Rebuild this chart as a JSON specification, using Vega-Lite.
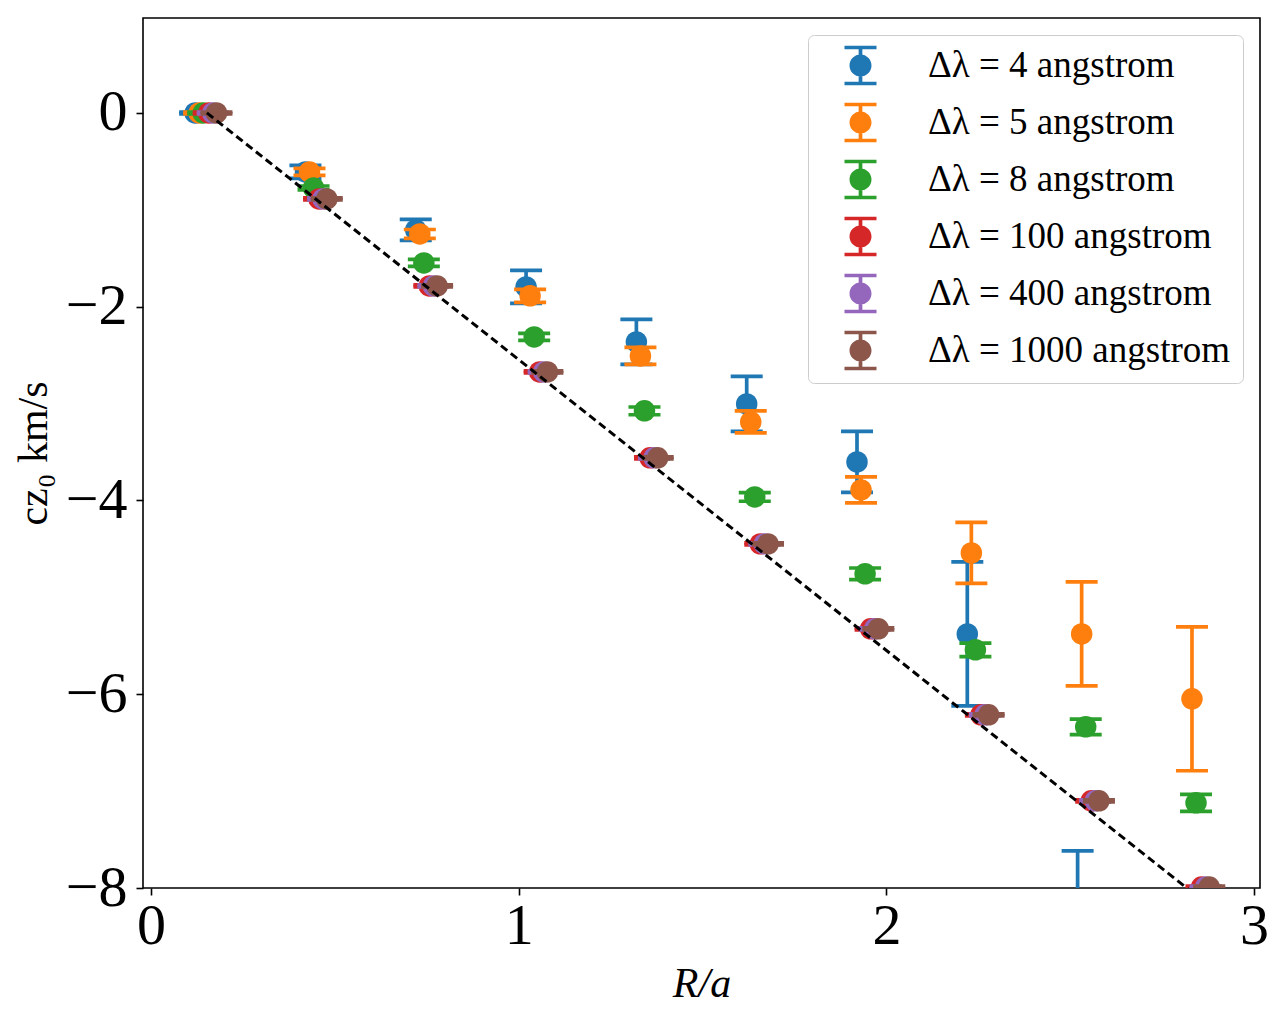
{
  "$schema": "https://vega.github.io/schema/vega-lite/v6.json",
  "width": 1117,
  "height": 870,
  "autosize": {"type": "none"},
  "padding": {"left": 143, "top": 18, "right": 22, "bottom": 141},
  "background": "white",
  "config": {
    "view": {"stroke": "black", "strokeWidth": 1.6},
    "font": "Liberation Serif",
    "axis": {"domain": false, "grid": false, "ticks": true, "tickColor": "black", "tickWidth": 1.6, "tickSize": 7, "labelColor": "black", "labelFont": "Liberation Serif", "labelFontSize": 58, "titleFont": "Liberation Serif", "titleFontSize": 42, "titleFontWeight": "normal", "titleColor": "black", "labelFlush": false, "format": "d"},
    "axisX": {"labelPadding": 2, "titlePadding": 8, "titleFontStyle": "italic"},
    "axisY": {"labelPadding": 9, "titlePadding": 10},
    "legend": {"labelFont": "Liberation Serif", "labelFontSize": 37, "labelColor": "black"}
  },
  "datasets": {
    "pts": [
      {"s": "Δλ = 4 angstrom", "x": 0.120, "y": 0, "lo": -0.01, "hi": 0.01},
      {"s": "Δλ = 4 angstrom", "x": 0.420, "y": -0.609, "lo": -0.676, "hi": -0.542},
      {"s": "Δλ = 4 angstrom", "x": 0.720, "y": -1.207, "lo": -1.315, "hi": -1.099},
      {"s": "Δλ = 4 angstrom", "x": 1.020, "y": -1.796, "lo": -1.966, "hi": -1.626},
      {"s": "Δλ = 4 angstrom", "x": 1.320, "y": -2.363, "lo": -2.595, "hi": -2.131},
      {"s": "Δλ = 4 angstrom", "x": 1.620, "y": -3.003, "lo": -3.287, "hi": -2.719},
      {"s": "Δλ = 4 angstrom", "x": 1.920, "y": -3.602, "lo": -3.917, "hi": -3.287},
      {"s": "Δλ = 4 angstrom", "x": 2.220, "y": -5.377, "lo": -6.120, "hi": -4.634},
      {"s": "Δλ = 4 angstrom", "x": 2.520, "y": -8.650, "lo": -9.680, "hi": -7.616},
      {"s": "Δλ = 4 angstrom", "x": 2.820, "y": -10.30, "lo": -11.80, "hi": -8.800},
      {"s": "Δλ = 5 angstrom", "x": 0.131, "y": 0, "lo": -0.01, "hi": 0.01},
      {"s": "Δλ = 5 angstrom", "x": 0.431, "y": -0.609, "lo": -0.645, "hi": -0.573},
      {"s": "Δλ = 5 angstrom", "x": 0.731, "y": -1.249, "lo": -1.295, "hi": -1.203},
      {"s": "Δλ = 5 angstrom", "x": 1.031, "y": -1.888, "lo": -1.955, "hi": -1.821},
      {"s": "Δλ = 5 angstrom", "x": 1.331, "y": -2.508, "lo": -2.596, "hi": -2.420},
      {"s": "Δλ = 5 angstrom", "x": 1.631, "y": -3.189, "lo": -3.303, "hi": -3.075},
      {"s": "Δλ = 5 angstrom", "x": 1.931, "y": -3.891, "lo": -4.025, "hi": -3.757},
      {"s": "Δλ = 5 angstrom", "x": 2.231, "y": -4.541, "lo": -4.856, "hi": -4.226},
      {"s": "Δλ = 5 angstrom", "x": 2.531, "y": -5.377, "lo": -5.914, "hi": -4.840},
      {"s": "Δλ = 5 angstrom", "x": 2.831, "y": -6.047, "lo": -6.790, "hi": -5.304},
      {"s": "Δλ = 8 angstrom", "x": 0.142, "y": 0, "lo": -0.01, "hi": 0.01},
      {"s": "Δλ = 8 angstrom", "x": 0.442, "y": -0.774, "lo": -0.794, "hi": -0.754},
      {"s": "Δλ = 8 angstrom", "x": 0.742, "y": -1.548, "lo": -1.584, "hi": -1.512},
      {"s": "Δλ = 8 angstrom", "x": 1.042, "y": -2.312, "lo": -2.348, "hi": -2.276},
      {"s": "Δλ = 8 angstrom", "x": 1.342, "y": -3.075, "lo": -3.115, "hi": -3.035},
      {"s": "Δλ = 8 angstrom", "x": 1.642, "y": -3.963, "lo": -4.008, "hi": -3.918},
      {"s": "Δλ = 8 angstrom", "x": 1.942, "y": -4.757, "lo": -4.817, "hi": -4.697},
      {"s": "Δλ = 8 angstrom", "x": 2.242, "y": -5.542, "lo": -5.612, "hi": -5.472},
      {"s": "Δλ = 8 angstrom", "x": 2.542, "y": -6.336, "lo": -6.416, "hi": -6.256},
      {"s": "Δλ = 8 angstrom", "x": 2.842, "y": -7.121, "lo": -7.209, "hi": -7.033},
      {"s": "Δλ = 100 angstrom", "x": 0.157, "y": 0, "lo": -0.01, "hi": 0.01},
      {"s": "Δλ = 100 angstrom", "x": 0.457, "y": -0.887, "lo": -0.897, "hi": -0.877},
      {"s": "Δλ = 100 angstrom", "x": 0.757, "y": -1.785, "lo": -1.795, "hi": -1.775},
      {"s": "Δλ = 100 angstrom", "x": 1.057, "y": -2.673, "lo": -2.683, "hi": -2.663},
      {"s": "Δλ = 100 angstrom", "x": 1.357, "y": -3.560, "lo": -3.570, "hi": -3.550},
      {"s": "Δλ = 100 angstrom", "x": 1.657, "y": -4.448, "lo": -4.458, "hi": -4.438},
      {"s": "Δλ = 100 angstrom", "x": 1.957, "y": -5.325, "lo": -5.335, "hi": -5.315},
      {"s": "Δλ = 100 angstrom", "x": 2.257, "y": -6.213, "lo": -6.223, "hi": -6.203},
      {"s": "Δλ = 100 angstrom", "x": 2.557, "y": -7.100, "lo": -7.110, "hi": -7.090},
      {"s": "Δλ = 100 angstrom", "x": 2.857, "y": -7.990, "lo": -8.000, "hi": -7.980},
      {"s": "Δλ = 400 angstrom", "x": 0.168, "y": 0, "lo": -0.01, "hi": 0.01},
      {"s": "Δλ = 400 angstrom", "x": 0.468, "y": -0.887, "lo": -0.897, "hi": -0.877},
      {"s": "Δλ = 400 angstrom", "x": 0.768, "y": -1.785, "lo": -1.795, "hi": -1.775},
      {"s": "Δλ = 400 angstrom", "x": 1.068, "y": -2.673, "lo": -2.683, "hi": -2.663},
      {"s": "Δλ = 400 angstrom", "x": 1.368, "y": -3.560, "lo": -3.570, "hi": -3.550},
      {"s": "Δλ = 400 angstrom", "x": 1.668, "y": -4.448, "lo": -4.458, "hi": -4.438},
      {"s": "Δλ = 400 angstrom", "x": 1.968, "y": -5.325, "lo": -5.335, "hi": -5.315},
      {"s": "Δλ = 400 angstrom", "x": 2.268, "y": -6.213, "lo": -6.223, "hi": -6.203},
      {"s": "Δλ = 400 angstrom", "x": 2.568, "y": -7.100, "lo": -7.110, "hi": -7.090},
      {"s": "Δλ = 400 angstrom", "x": 2.868, "y": -7.990, "lo": -8.000, "hi": -7.980},
      {"s": "Δλ = 1000 angstrom", "x": 0.178, "y": 0, "lo": -0.01, "hi": 0.01},
      {"s": "Δλ = 1000 angstrom", "x": 0.478, "y": -0.887, "lo": -0.897, "hi": -0.877},
      {"s": "Δλ = 1000 angstrom", "x": 0.778, "y": -1.785, "lo": -1.795, "hi": -1.775},
      {"s": "Δλ = 1000 angstrom", "x": 1.078, "y": -2.673, "lo": -2.683, "hi": -2.663},
      {"s": "Δλ = 1000 angstrom", "x": 1.378, "y": -3.560, "lo": -3.570, "hi": -3.550},
      {"s": "Δλ = 1000 angstrom", "x": 1.678, "y": -4.448, "lo": -4.458, "hi": -4.438},
      {"s": "Δλ = 1000 angstrom", "x": 1.978, "y": -5.325, "lo": -5.335, "hi": -5.315},
      {"s": "Δλ = 1000 angstrom", "x": 2.278, "y": -6.213, "lo": -6.223, "hi": -6.203},
      {"s": "Δλ = 1000 angstrom", "x": 2.578, "y": -7.100, "lo": -7.110, "hi": -7.090},
      {"s": "Δλ = 1000 angstrom", "x": 2.878, "y": -7.990, "lo": -8.000, "hi": -7.980}
    ],
    "ref": [
      {"x": 0.152, "y": 0},
      {"x": 2.870, "y": -8.16}
    ]
  },
  "data": {"name": "pts"},
  "encoding": {
    "x": {"field": "x", "type": "quantitative", "title": "R/a", "scale": {"domain": [-0.0218, 3.016], "nice": false, "zero": false}, "axis": {"values": [0, 1, 2, 3]}},
    "y": {"field": "y", "type": "quantitative", "title": "cz₀ km/s", "scale": {"domain": [-8, 0.98], "nice": false, "zero": false}, "axis": {"values": [-8, -6, -4, -2, 0]}},
    "color": {
      "field": "s", "type": "nominal",
      "scale": {"domain": ["Δλ = 4 angstrom", "Δλ = 5 angstrom", "Δλ = 8 angstrom", "Δλ = 100 angstrom", "Δλ = 400 angstrom", "Δλ = 1000 angstrom"], "range": ["#1f77b4", "#ff7f0e", "#2ca02c", "#d62728", "#9467bd", "#8c564b"]},
      "legend": {"title": null, "orient": "top-right", "offset": 17, "fillColor": "white", "strokeColor": "#cccccc", "cornerRadius": 6, "padding": 12, "symbolType": "M-0.889,-1.103H0.889V-0.897H-0.889ZM-0.889,0.897H0.889V1.103H-0.889ZM-0.103,-1H0.103V1H-0.103ZM0.611,0A0.611,0.611,0,1,1,-0.611,0A0.611,0.611,0,1,1,0.611,0Z", "symbolSize": 1296, "symbolStrokeWidth": 0, "symbolOpacity": 1, "symbolOffset": 22, "labelOffset": 49, "labelFont": "Liberation Serif", "labelFontSize": 37, "labelColor": "black", "labelLimit": 600, "rowPadding": 16}
    }
  },
  "layer": [
    {"transform": [{"filter": "datum.s === 'Δλ = 4 angstrom'"}], "layer": [
      {"mark": {"type": "rule", "strokeWidth": 3.7, "clip": true}, "encoding": {"y": {"field": "lo", "type": "quantitative", "title": "cz₀ km/s", "axis": {"values": [-8, -6, -4, -2, 0]}, "scale": {"domain": [-8, 0.98], "nice": false, "zero": false}}, "y2": {"field": "hi"}}},
      {"mark": {"type": "tick", "orient": "horizontal", "size": 32, "thickness": 3.7, "opacity": 1, "clip": true}, "encoding": {"y": {"field": "lo", "type": "quantitative", "title": "cz₀ km/s", "axis": {"values": [-8, -6, -4, -2, 0]}, "scale": {"domain": [-8, 0.98], "nice": false, "zero": false}}}},
      {"mark": {"type": "tick", "orient": "horizontal", "size": 32, "thickness": 3.7, "opacity": 1, "clip": true}, "encoding": {"y": {"field": "hi", "type": "quantitative", "title": "cz₀ km/s", "axis": {"values": [-8, -6, -4, -2, 0]}, "scale": {"domain": [-8, 0.98], "nice": false, "zero": false}}}},
      {"mark": {"type": "point", "shape": "circle", "filled": true, "size": 462, "opacity": 1, "clip": true}}
    ]},
    {"transform": [{"filter": "datum.s === 'Δλ = 5 angstrom'"}], "layer": [
      {"mark": {"type": "rule", "strokeWidth": 3.7, "clip": true}, "encoding": {"y": {"field": "lo", "type": "quantitative", "title": "cz₀ km/s", "axis": {"values": [-8, -6, -4, -2, 0]}, "scale": {"domain": [-8, 0.98], "nice": false, "zero": false}}, "y2": {"field": "hi"}}},
      {"mark": {"type": "tick", "orient": "horizontal", "size": 32, "thickness": 3.7, "opacity": 1, "clip": true}, "encoding": {"y": {"field": "lo", "type": "quantitative", "title": "cz₀ km/s", "axis": {"values": [-8, -6, -4, -2, 0]}, "scale": {"domain": [-8, 0.98], "nice": false, "zero": false}}}},
      {"mark": {"type": "tick", "orient": "horizontal", "size": 32, "thickness": 3.7, "opacity": 1, "clip": true}, "encoding": {"y": {"field": "hi", "type": "quantitative", "title": "cz₀ km/s", "axis": {"values": [-8, -6, -4, -2, 0]}, "scale": {"domain": [-8, 0.98], "nice": false, "zero": false}}}},
      {"mark": {"type": "point", "shape": "circle", "filled": true, "size": 462, "opacity": 1, "clip": true}}
    ]},
    {"transform": [{"filter": "datum.s === 'Δλ = 8 angstrom'"}], "layer": [
      {"mark": {"type": "rule", "strokeWidth": 3.7, "clip": true}, "encoding": {"y": {"field": "lo", "type": "quantitative", "title": "cz₀ km/s", "axis": {"values": [-8, -6, -4, -2, 0]}, "scale": {"domain": [-8, 0.98], "nice": false, "zero": false}}, "y2": {"field": "hi"}}},
      {"mark": {"type": "tick", "orient": "horizontal", "size": 32, "thickness": 3.7, "opacity": 1, "clip": true}, "encoding": {"y": {"field": "lo", "type": "quantitative", "title": "cz₀ km/s", "axis": {"values": [-8, -6, -4, -2, 0]}, "scale": {"domain": [-8, 0.98], "nice": false, "zero": false}}}},
      {"mark": {"type": "tick", "orient": "horizontal", "size": 32, "thickness": 3.7, "opacity": 1, "clip": true}, "encoding": {"y": {"field": "hi", "type": "quantitative", "title": "cz₀ km/s", "axis": {"values": [-8, -6, -4, -2, 0]}, "scale": {"domain": [-8, 0.98], "nice": false, "zero": false}}}},
      {"mark": {"type": "point", "shape": "circle", "filled": true, "size": 462, "opacity": 1, "clip": true}}
    ]},
    {"transform": [{"filter": "datum.s === 'Δλ = 100 angstrom'"}], "layer": [
      {"mark": {"type": "rule", "strokeWidth": 3.7, "clip": true}, "encoding": {"y": {"field": "lo", "type": "quantitative", "title": "cz₀ km/s", "axis": {"values": [-8, -6, -4, -2, 0]}, "scale": {"domain": [-8, 0.98], "nice": false, "zero": false}}, "y2": {"field": "hi"}}},
      {"mark": {"type": "tick", "orient": "horizontal", "size": 32, "thickness": 3.7, "opacity": 1, "clip": true}, "encoding": {"y": {"field": "lo", "type": "quantitative", "title": "cz₀ km/s", "axis": {"values": [-8, -6, -4, -2, 0]}, "scale": {"domain": [-8, 0.98], "nice": false, "zero": false}}}},
      {"mark": {"type": "tick", "orient": "horizontal", "size": 32, "thickness": 3.7, "opacity": 1, "clip": true}, "encoding": {"y": {"field": "hi", "type": "quantitative", "title": "cz₀ km/s", "axis": {"values": [-8, -6, -4, -2, 0]}, "scale": {"domain": [-8, 0.98], "nice": false, "zero": false}}}},
      {"mark": {"type": "point", "shape": "circle", "filled": true, "size": 462, "opacity": 1, "clip": true}}
    ]},
    {"transform": [{"filter": "datum.s === 'Δλ = 400 angstrom'"}], "layer": [
      {"mark": {"type": "rule", "strokeWidth": 3.7, "clip": true}, "encoding": {"y": {"field": "lo", "type": "quantitative", "title": "cz₀ km/s", "axis": {"values": [-8, -6, -4, -2, 0]}, "scale": {"domain": [-8, 0.98], "nice": false, "zero": false}}, "y2": {"field": "hi"}}},
      {"mark": {"type": "tick", "orient": "horizontal", "size": 32, "thickness": 3.7, "opacity": 1, "clip": true}, "encoding": {"y": {"field": "lo", "type": "quantitative", "title": "cz₀ km/s", "axis": {"values": [-8, -6, -4, -2, 0]}, "scale": {"domain": [-8, 0.98], "nice": false, "zero": false}}}},
      {"mark": {"type": "tick", "orient": "horizontal", "size": 32, "thickness": 3.7, "opacity": 1, "clip": true}, "encoding": {"y": {"field": "hi", "type": "quantitative", "title": "cz₀ km/s", "axis": {"values": [-8, -6, -4, -2, 0]}, "scale": {"domain": [-8, 0.98], "nice": false, "zero": false}}}},
      {"mark": {"type": "point", "shape": "circle", "filled": true, "size": 462, "opacity": 1, "clip": true}}
    ]},
    {"transform": [{"filter": "datum.s === 'Δλ = 1000 angstrom'"}], "layer": [
      {"mark": {"type": "rule", "strokeWidth": 3.7, "clip": true}, "encoding": {"y": {"field": "lo", "type": "quantitative", "title": "cz₀ km/s", "axis": {"values": [-8, -6, -4, -2, 0]}, "scale": {"domain": [-8, 0.98], "nice": false, "zero": false}}, "y2": {"field": "hi"}}},
      {"mark": {"type": "tick", "orient": "horizontal", "size": 32, "thickness": 3.7, "opacity": 1, "clip": true}, "encoding": {"y": {"field": "lo", "type": "quantitative", "title": "cz₀ km/s", "axis": {"values": [-8, -6, -4, -2, 0]}, "scale": {"domain": [-8, 0.98], "nice": false, "zero": false}}}},
      {"mark": {"type": "tick", "orient": "horizontal", "size": 32, "thickness": 3.7, "opacity": 1, "clip": true}, "encoding": {"y": {"field": "hi", "type": "quantitative", "title": "cz₀ km/s", "axis": {"values": [-8, -6, -4, -2, 0]}, "scale": {"domain": [-8, 0.98], "nice": false, "zero": false}}}},
      {"mark": {"type": "point", "shape": "circle", "filled": true, "size": 462, "opacity": 1, "clip": true}}
    ]},
    {"data": {"name": "ref"}, "mark": {"type": "line", "strokeDash": [8, 4.5], "strokeWidth": 3, "clip": true}, "encoding": {"color": {"value": "black"}}}
  ]
}
